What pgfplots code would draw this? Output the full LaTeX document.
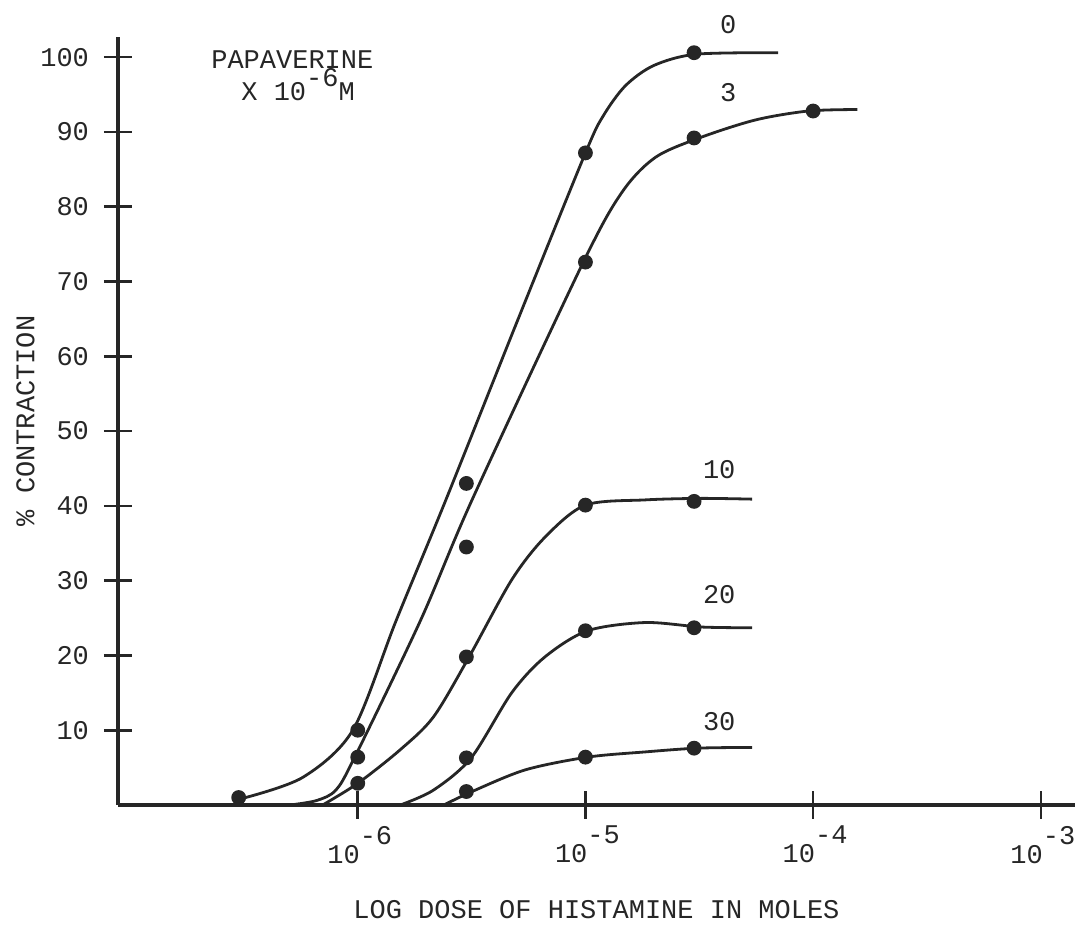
\documentclass[border=0pt]{standalone}
\usepackage{fontspec}
\setmainfont{Liberation Mono}
\setmonofont{Liberation Mono}
\usepackage{pgfplots}
\pgfplotsset{compat=1.18}
\definecolor{ink}{HTML}{262626}
\newcommand{\lbl}{\fontsize{13.5}{16}\selectfont}
\begin{document}
\begin{tikzpicture}
\begin{axis}[
  scale only axis,
  width=478.5pt, height=384pt,
  xmode=log,
  xmin=8.85e-8, xmax=1.413e-3,
  ymin=0, ymax=102.7,
  axis lines=left,
  axis line style={-, line width=1.8pt, ink},
  clip=false,
  tick align=center,
  major tick length=14pt,
  tick style={line width=1.3pt, ink},
  xtick={1e-6,1e-5,1e-4,1e-3},
  xticklabels={10\raisebox{9.5pt}{-6},10\raisebox{9.5pt}{-5},10\raisebox{9.5pt}{-4},10\raisebox{9.5pt}{-3}},
  xminorticks=false,
  ytick={10,20,30,40,50,60,70,80,90,100},
  /pgf/number format/assume math mode=true,
  ticklabel style={font=\lbl, text=ink},
  yticklabel style={xshift=-4pt},
  xticklabel style={yshift=0pt, xshift=1pt},
  xlabel={LOG DOSE OF HISTAMINE IN MOLES},
  ylabel={\% CONTRACTION},
  label style={font=\lbl, text=ink},
  xlabel style={yshift=-11.5pt},
  ylabel style={yshift=-4pt},
  every axis plot/.append style={ink, line width=1.4pt},
]
\coordinate (O) at (rel axis cs:0,0);
% curve 0
\addplot[smooth, no marks] coordinates {
 (3.13e-7,0.9) (5.74e-7,3.7) (9.51e-7,10.0) (1.476e-6,24.7) (2.438e-6,40.8)
 (5.035e-6,64.8) (1e-5,87.2) (1.2e-5,92.2) (1.5e-5,96.2) (2.0e-5,98.9) (3.069e-5,100.4) (7.015e-5,100.6)};
% curve 3
\addplot[smooth, no marks] coordinates {
 (5.04e-7,0) (6.6e-7,0.6) (8.02e-7,2.0) (9.70e-7,6.4) (1.888e-6,24.7) (3.177e-6,40.8)
 (9.79e-6,72.6) (1.452e-5,82.0) (2.028e-5,86.6) (3.162e-5,89.2)
 (5.57e-5,91.6) (9.51e-5,92.8) (1.563e-4,93.0)};
% curve 10
\addplot[smooth, no marks] coordinates {
 (7.01e-7,0) (1e-6,2.9) (1.538e-6,7.4) (2.153e-6,11.8) (3.083e-6,19.8)
 (4.742e-6,30.1) (6.637e-6,35.8) (1e-5,40.1) (1.832e-5,40.8) (3.228e-5,41.0) (5.395e-5,40.9)};
% curve 20
\addplot[smooth, no marks] coordinates {
 (1.538e-6,0) (2.153e-6,2.0) (3.148e-6,6.3) (4.742e-6,15.0) (6.637e-6,19.8)
 (1.021e-5,23.3) (1.832e-5,24.4) (3.228e-5,23.8) (5.395e-5,23.7)};
% curve 30
\addplot[smooth, no marks] coordinates {
 (2.388e-6,0) (3.177e-6,1.8) (5.445e-6,4.7) (1.021e-5,6.4) (1.832e-5,7.1)
 (3.097e-5,7.6) (5.395e-5,7.7)};
% data points
\addplot[only marks, mark=*, mark size=3pt, mark options={fill=ink, draw=ink}] coordinates {
 (3e-7,1.0) (1e-6,10.0) (3e-6,43.0) (1e-5,87.2) (3e-5,100.6)};
\addplot[only marks, mark=*, mark size=3pt, mark options={fill=ink, draw=ink}] coordinates {
 (1e-6,6.4) (3e-6,34.5) (1e-5,72.6) (3e-5,89.2) (1e-4,92.8)};
\addplot[only marks, mark=*, mark size=3pt, mark options={fill=ink, draw=ink}] coordinates {
 (1e-6,2.9) (3e-6,19.8) (1e-5,40.1) (3e-5,40.6)};
\addplot[only marks, mark=*, mark size=3pt, mark options={fill=ink, draw=ink}] coordinates {
 (3e-6,6.3) (1e-5,23.3) (3e-5,23.7)};
\addplot[only marks, mark=*, mark size=3pt, mark options={fill=ink, draw=ink}] coordinates {
 (3e-6,1.8) (1e-5,6.4) (3e-5,7.6)};
% curve labels
\node[font=\lbl, text=ink] at (axis cs:4.24e-5,104.3) {0};
\node[font=\lbl, text=ink] at (axis cs:4.24e-5,95.2) {3};
\node[font=\lbl, text=ink] at (axis cs:3.87e-5,44.9) {10};
\node[font=\lbl, text=ink] at (axis cs:3.87e-5,28.1) {20};
\node[font=\lbl, text=ink] at (axis cs:3.87e-5,11.2) {30};
\node[font=\lbl, text=ink, anchor=base west, inner sep=0pt] at (axis cs:2.265e-7,98.5) {PAPAVERINE};
\node[font=\lbl, text=ink, anchor=base west, inner sep=0pt] at (axis cs:3.07e-7,94.25) {X 10\raisebox{7pt}{-6}M};
\end{axis}
\pgfresetboundingbox
\path[use as bounding box] (O) ++(-59pt,-60.5pt) rectangle ++(538.5pt,463pt);
\end{tikzpicture}
\end{document}
